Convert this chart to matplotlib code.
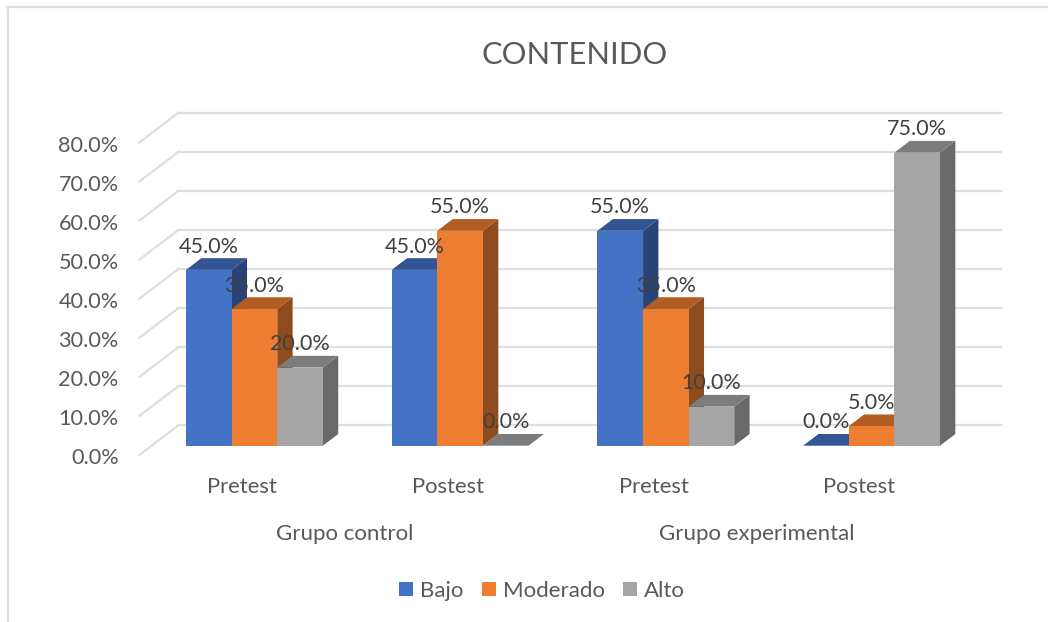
import matplotlib
matplotlib.use("Agg")
import matplotlib.pyplot as plt
from matplotlib.patches import Polygon
from matplotlib.lines import Line2D
from matplotlib.transforms import ScaledTranslation

W, H = 1060, 622
plt.rcParams['font.family'] = ['Lato', 'DejaVu Sans']

title = "CONTENIDO"
tests = ["Pretest", "Postest", "Pretest", "Postest"]
groups = ["Grupo control", "Grupo experimental"]
series = ["Bajo", "Moderado", "Alto"]
bajo = [45.0, 45.0, 55.0, 0.0]
moderado = [35.0, 55.0, 35.0, 5.0]
alto = [20.0, 0.0, 10.0, 75.0]
yticks = [0, 10, 20, 30, 40, 50, 60, 70, 80]

front = ["#4472C4", "#ED7D31", "#A5A5A5"]
top = ["#335593", "#B25D24", "#7C7C7C"]
side = ["#284476", "#8E4B1D", "#696969"]

fig = plt.figure(figsize=(W / 100, H / 100), dpi=100)
x0, x1, y0, y80 = 139.4, 962.2, 455.0, 142.4
ax = fig.add_axes([x0 / W, 1 - y0 / H, (x1 - x0) / W, (y0 - y80) / H])
ax.set_xlim(0, 4)
ax.set_ylim(0, 80)
ax.patch.set_alpha(0)
for s in ax.spines.values():
    s.set_visible(False)

# depth of the 3-D box, in data units per unit of depth
DX = 39.0 / ((x1 - x0) / 4)
DY = 29.7 / ((y0 - y80) / 80)
D_FRONT, D_BACK = 0.313, 0.707
BAR_W = 45.6 / ((x1 - x0) / 4)
GAP = (1 - 3 * BAR_W) / 2

for v in yticks:
    ax.add_line(Line2D([0, DX], [v, v + DY], color="#DEDEDE", lw=1.6, clip_on=False, zorder=1))
    ax.add_line(Line2D([DX, 4 + DX], [v + DY, v + DY], color="#DEDEDE", lw=1.6, clip_on=False, zorder=1))

z = 2
for i in range(4):
    for j, vals in enumerate([bajo, moderado, alto]):
        v = vals[i]
        left = i + GAP + j * BAR_W + D_FRONT * DX
        base = D_FRONT * DY
        ddx, ddy = (D_BACK - D_FRONT) * DX, (D_BACK - D_FRONT) * DY
        r = left + BAR_W
        ax.add_patch(Polygon([(r, base), (r + ddx, base + ddy), (r + ddx, base + ddy + v), (r, base + v)],
                             fc=side[j], ec="none", clip_on=False, zorder=z))
        ax.add_patch(Polygon([(left, base + v), (r, base + v), (r + ddx, base + v + ddy), (left + ddx, base + v + ddy)],
                             fc=top[j], ec="none", clip_on=False, zorder=z))
        ax.bar(left, v, BAR_W, bottom=base, align="edge", color=front[j], clip_on=False, zorder=z,
               label=series[j] if i == 0 else None)
        ax.annotate(f"{v:.1f}%", (left + BAR_W / 2, base + v), xytext=(0, 16.8), textcoords="offset points",
                    ha="center", va="center", fontsize=15.5, color="#404040", zorder=20, annotation_clip=False)

ax.set_yticks(yticks)
ax.set_yticklabels([f"{v:.1f}%" for v in yticks], fontsize=15.6, color="#595959")
ax.set_xticks([0.5, 1.5, 2.5, 3.5])
ax.set_xticklabels(tests, fontsize=15.8, color="#595959")
ax.tick_params(axis="both", length=0)
ax.tick_params(axis="y", pad=15)
ax.tick_params(axis="x", pad=15.5)
shift = ScaledTranslation(0, -1.5 / 100, fig.dpi_scale_trans)
for lab in ax.get_yticklabels():
    lab.set_transform(lab.get_transform() + shift)
tr = ax.get_xaxis_transform()
for gx, g in zip([1, 3], groups):
    ax.annotate(g, (gx, 0), xycoords=tr, xytext=(0, -56.8), textcoords="offset points",
                ha="center", va="center", fontsize=16, color="#595959", annotation_clip=False)

fig.text(574.5 / W, 1 - 55 / H, title, ha="center", va="center", fontsize=22.2, color="#595959")

handles, labels = ax.get_legend_handles_labels()
fig.legend(handles, labels, loc="center", bbox_to_anchor=(542 / W, 1 - 591 / H), ncols=3, frameon=False,
           fontsize=16, labelcolor="#595959", handlelength=0.63, handleheight=0.63, handletextpad=0.3,
           columnspacing=0.85)

border = "#E0E0E0"
fig.add_artist(Line2D([7.5 / W, 7.5 / W], [0, 1 - 6.5 / H], color=border, lw=1.6))
fig.add_artist(Line2D([7 / W, 1047 / W], [1 - 6.5 / H, 1 - 6.5 / H], color=border, lw=1.6))

fig.savefig("out.png", dpi=100)
